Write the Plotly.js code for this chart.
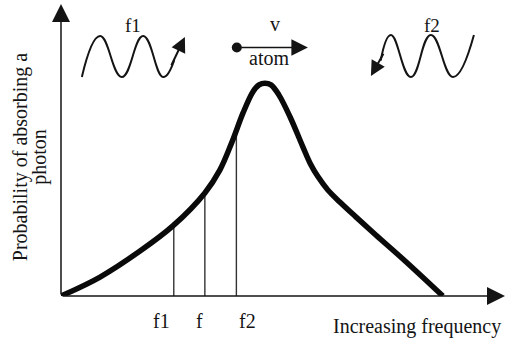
<!DOCTYPE html>
<html>
<head>
<meta charset="utf-8">
<script src="https://cdn.plot.ly/plotly-3.0.1.min.js"></script>
<style>
  html, body { margin: 0; padding: 0; background: #fff; }
  #plot { width: 506px; height: 341px; }
</style>
</head>
<body>
<div id="plot"></div>
<script>
// Absorption line profile (arbitrary frequency units vs. probability)
const freq = [0.00, 0.88, 1.78, 2.52, 3.24, 3.58, 3.85, 4.10, 4.32, 4.46, 4.59, 4.73, 4.91, 5.16, 5.45, 5.61, 5.79, 6.01, 6.28, 6.64, 7.09, 7.75, 8.60];
const prob = [0.000, 0.065, 0.154, 0.240, 0.353, 0.432, 0.527, 0.627, 0.699, 0.723, 0.729, 0.723, 0.688, 0.613, 0.510, 0.455, 0.408, 0.363, 0.322, 0.271, 0.209, 0.120, 0.000];

// Marked frequencies and where their drop lines meet the profile
const markFreq = [2.54, 3.24, 3.95];
const markTop = [0.240, 0.353, 0.565];
const markLabels = ['f1', 'f', 'f2'];

// Photon wave f1 (travels with the atom) and f2 (travels against it)
const waveF1x = [0.47, 0.88, 1.37, 1.85, 2.30, 2.55];
const waveF1y = [0.750, 0.890, 0.750, 0.890, 0.750, 0.808];
const waveF1arrow = [[2.47, 0.785], [2.79, 0.887]];   // [tail, tip]
const waveF2x = [9.30, 8.83, 8.33, 7.88, 7.43, 7.20];
const waveF2y = [0.894, 0.750, 0.894, 0.750, 0.894, 0.806];
const waveF2arrow = [[7.28, 0.835], [6.98, 0.753]];

// Moving atom and its velocity
const atomPos = [3.96, 0.851];
const atomVelTip = [5.56, 0.851];

// Axis extents
const xMax = 10;
const yMax = 1;

const ink = '#141414';
const serif = 'Liberation Serif, Times New Roman, serif';

// Drop lines built from the marked frequencies
const dropX = [], dropY = [];
markFreq.forEach((f, i) => { dropX.push(f, f, null); dropY.push(0, markTop[i], null); });

const traces = [
  { x: dropX, y: dropY, mode: 'lines', line: { color: '#333333', width: 1.4 }, hoverinfo: 'skip' },
  { x: freq, y: prob, mode: 'lines', line: { color: '#0a0a0a', width: 5.5, shape: 'spline', smoothing: 1 }, hoverinfo: 'skip' },
  { x: waveF1x, y: waveF1y, mode: 'lines', line: { color: ink, width: 2, shape: 'spline', smoothing: 1.3 }, hoverinfo: 'skip' },
  { x: waveF2x, y: waveF2y, mode: 'lines', line: { color: ink, width: 2, shape: 'spline', smoothing: 1.3 }, hoverinfo: 'skip' },
  { x: [atomPos[0]], y: [atomPos[1]], mode: 'markers', marker: { color: ink, size: 10 }, hoverinfo: 'skip' }
];

function arrow(tip, tail, width, size) {
  return {
    x: tip[0], y: tip[1], ax: tail[0], ay: tail[1],
    xref: 'x', yref: 'y', axref: 'x', ayref: 'y',
    text: '', showarrow: true, arrowhead: 2, arrowsize: size, arrowwidth: width,
    arrowcolor: ink, standoff: 0, startstandoff: 0
  };
}

// Text placed in paper space (plot-area fractions) so it may sit outside the axes
function label(text, x, y, opts) {
  return Object.assign({
    x: x / xMax, y: y / yMax, xref: 'paper', yref: 'paper',
    xanchor: 'center', yanchor: 'middle', text: text, showarrow: false,
    font: { family: serif, size: 20, color: ink }
  }, opts || {});
}

const shifts = [-12, -5, 11];
const annotations = [
  arrow([xMax, 0], [0, 0], 1.5, 2.4),
  arrow([0, yMax], [0, 0], 1.5, 2.4),
  arrow(waveF1arrow[1], waveF1arrow[0], 2, 1.5),
  arrow(waveF2arrow[1], waveF2arrow[0], 2, 1.5),
  arrow(atomVelTip, atomPos, 1.5, 2.2),
  label('f1', 1.62, 0.925, { font: { family: serif, size: 19, color: ink } }),
  label('f2', 8.36, 0.925, { font: { family: serif, size: 19, color: ink } }),
  label('v', 4.82, 0.93),
  label('atom', 4.69, 0.815),
  label('Increasing frequency', 9.96, -0.106, { xanchor: 'right' }),
  label('Probability of absorbing a', -0.92, 0.476, { textangle: -90 }),
  label('photon', -0.50, 0.476, { textangle: -90 })
];
markFreq.forEach((f, i) => {
  annotations.push(label(markLabels[i], f, -0.086, { xshift: shifts[i] }));
});

const hiddenAxis = { visible: false, showgrid: false, zeroline: false, fixedrange: true };

const layout = {
  width: 506, height: 341, autosize: false,
  margin: { l: 61, r: 1, t: 4, b: 45, pad: 0 },
  paper_bgcolor: '#ffffff', plot_bgcolor: '#ffffff',
  showlegend: false,
  xaxis: Object.assign({ range: [0, xMax] }, hiddenAxis),
  yaxis: Object.assign({ range: [0, yMax] }, hiddenAxis),
  annotations: annotations
};

Plotly.newPlot('plot', traces, layout, { displayModeBar: false, staticPlot: true });
</script>
</body>
</html>
